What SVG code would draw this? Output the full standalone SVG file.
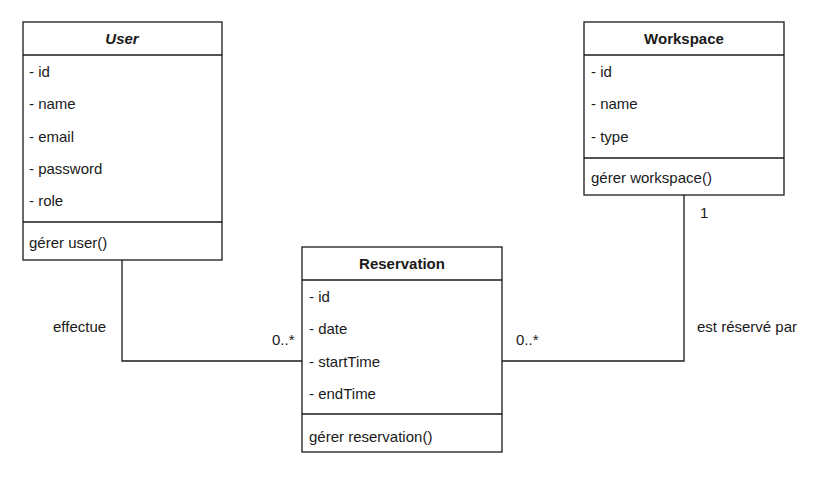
<svg xmlns="http://www.w3.org/2000/svg" width="836" height="480" viewBox="0 0 836 480">
  <style>
    .box { fill: #ffffff; stroke: #1a1a1a; stroke-width: 1.3; }
    .sep { stroke: #1a1a1a; stroke-width: 1.3; }
    .t { font-family: "Liberation Sans", Arial, sans-serif; font-size: 15px; fill: #1a1a1a; }
    .title { font-weight: bold; text-anchor: middle; }
    .edge { fill: none; stroke: #1a1a1a; stroke-width: 1.3; }
  </style>
  <rect x="0" y="0" width="836" height="480" fill="#ffffff"/>

  <g id="connectors">
    <path class="edge" d="M122,260 V361 H302"/>
    <path class="edge" d="M684,195 V361 H502"/>
    <text class="t" x="53" y="332">effectue</text>
    <text class="t" x="272" y="345">0..*</text>
    <text class="t" x="516" y="345">0..*</text>
    <text class="t" x="697" y="332">est réservé par</text>
    <text class="t" x="700" y="218">1</text>
  </g>

  <g id="user">
    <rect class="box" x="23" y="22" width="199" height="238"/>
    <line class="sep" x1="23" y1="55" x2="222" y2="55"/>
    <line class="sep" x1="23" y1="222" x2="222" y2="222"/>
    <text class="t title" x="122" y="44" font-style="italic">User</text>
    <text class="t" x="29" y="77">- id</text>
    <text class="t" x="29" y="109">- name</text>
    <text class="t" x="29" y="142">- email</text>
    <text class="t" x="29" y="174">- password</text>
    <text class="t" x="29" y="206">- role</text>
    <text class="t" x="29" y="248">gérer user()</text>
  </g>

  <g id="workspace">
    <rect class="box" x="584" y="22" width="200" height="173"/>
    <line class="sep" x1="584" y1="55" x2="784" y2="55"/>
    <line class="sep" x1="584" y1="158" x2="784" y2="158"/>
    <text class="t title" x="684" y="44">Workspace</text>
    <text class="t" x="591" y="77">- id</text>
    <text class="t" x="591" y="109">- name</text>
    <text class="t" x="591" y="142">- type</text>
    <text class="t" x="591" y="183">gérer workspace()</text>
  </g>

  <g id="reservation">
    <rect class="box" x="302" y="247" width="200" height="205"/>
    <line class="sep" x1="302" y1="280" x2="502" y2="280"/>
    <line class="sep" x1="302" y1="414" x2="502" y2="414"/>
    <text class="t title" x="402" y="269">Reservation</text>
    <text class="t" x="309" y="302">- id</text>
    <text class="t" x="309" y="334">- date</text>
    <text class="t" x="309" y="367">- startTime</text>
    <text class="t" x="309" y="399">- endTime</text>
    <text class="t" x="309" y="442">gérer reservation()</text>
  </g>
</svg>
